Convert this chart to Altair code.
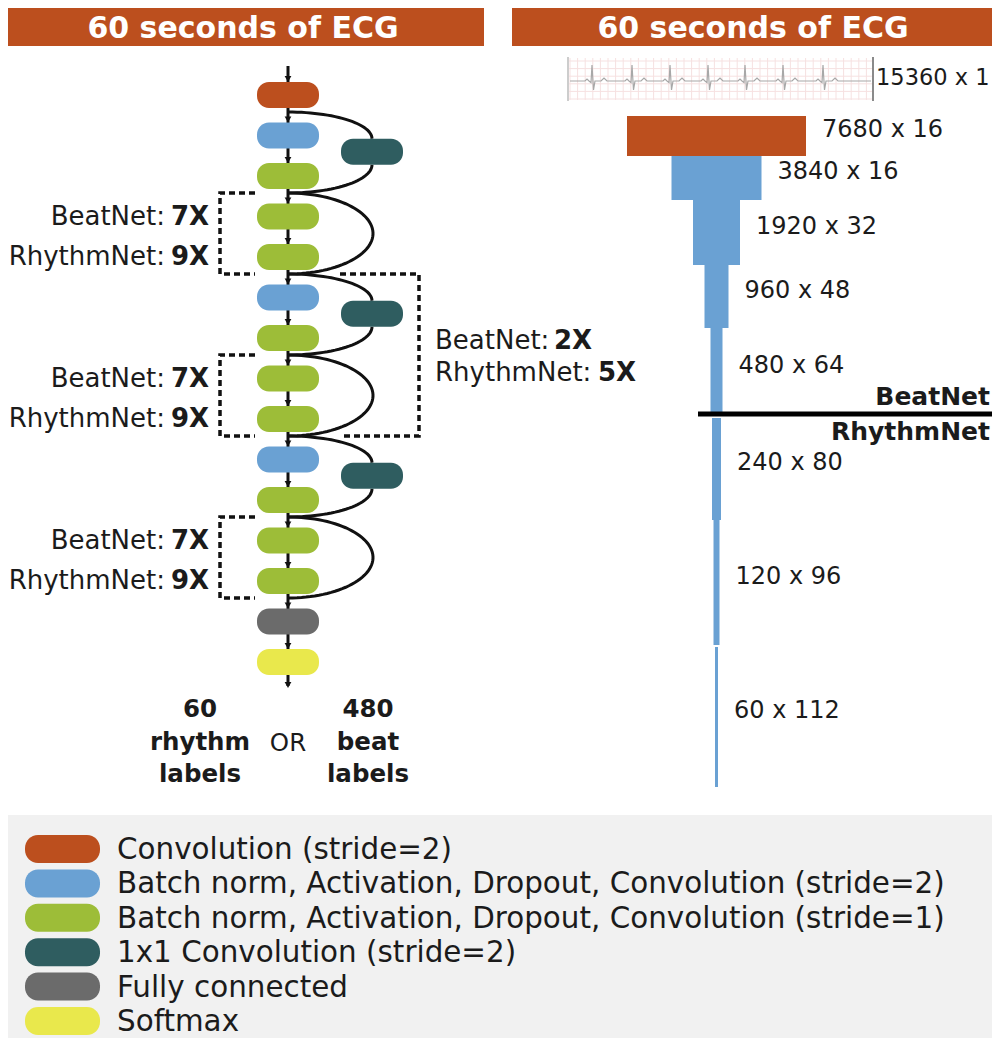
import altair as alt
import numpy as np
import pandas as pd

# ---------------- data ----------------
header_title = "60 seconds of ECG"

block_types = ["conv", "bn_s2", "bn_s1", "bn_s1", "bn_s1",
               "bn_s2", "bn_s1", "bn_s1", "bn_s1",
               "bn_s2", "bn_s1", "bn_s1", "bn_s1",
               "fc", "softmax"]
skip_starts = [0, 4, 8]          # a 1x1-conv shortcut starts after these blocks
repeat_beatnet = ["7X", "7X", "7X"]
repeat_rhythmnet = ["9X", "9X", "9X"]
outer_beatnet = "2X"
outer_rhythmnet = "5X"

legend_keys = ["conv", "bn_s2", "bn_s1", "skip", "fc", "softmax"]
legend_labels = ["Convolution (stride=2)",
                 "Batch norm, Activation, Dropout, Convolution (stride=2)",
                 "Batch norm, Activation, Dropout, Convolution (stride=1)",
                 "1x1 Convolution (stride=2)",
                 "Fully connected",
                 "Softmax"]

palette = {"conv": "#BC4F1E", "bn_s2": "#6AA1D3", "bn_s1": "#9DBD38",
           "skip": "#2F5D60", "fc": "#6B6B6B", "softmax": "#E9E84C"}

shape_lengths = [15360, 7680, 3840, 1920, 960, 480, 240, 120, 60]
shape_channels = [1, 16, 16, 32, 48, 64, 80, 96, 112]
funnel_colors = ["conv", "bn_s2", "bn_s2", "bn_s2", "bn_s2", "bn_s2", "bn_s2", "bn_s2"]
funnel_width = [179, 90, 47, 24, 12, 9, 6, 3]
funnel_top = [116, 156, 200, 265, 328, 418, 520, 647]
funnel_bottom = [156, 200, 265, 328, 415, 520, 645, 787]

ecg_beats = [592, 632, 670, 708, 745, 783, 823]

out_left = ["60", "rhythm", "labels"]
out_right = ["480", "beat", "labels"]

# ---------------- layout ----------------
FONT = "DejaVu Sans"
INK = "#1b1b1b"
X0, X1, Y0, Y1 = 8, 992, 8, 1038
XS = alt.Scale(domain=[X0, X1], nice=False, zero=False)
YS = alt.Scale(domain=[Y0, Y1], nice=False, zero=False, reverse=True)

CX = 288          # main column centre
BW, BH = 62, 26
def yc(i):
    return 95 + 40.5 * i
def J(i):
    return yc(i) + 17


def rects(df, radius=0):
    kw = dict(cornerRadius=radius) if radius else {}
    return alt.Chart(df).mark_rect(**kw).encode(
        x=alt.X("x:Q", scale=XS, axis=None), x2="x2:Q",
        y=alt.Y("y:Q", scale=YS, axis=None), y2="y2:Q",
        color=alt.Color("c:N", scale=None))


def texts(df, size, weight="normal", align="left", color=INK, baseline="middle"):
    return alt.Chart(df).mark_text(font=FONT, fontSize=size, fontWeight=weight,
                                   align=align, baseline=baseline, color=color).encode(
        x=alt.X("x:Q", scale=XS, axis=None),
        y=alt.Y("y:Q", scale=YS, axis=None),
        text="t:N")


def lines(df, width=3, color="#111111", dash=None):
    kw = dict(strokeWidth=width, color=color, strokeCap="butt")
    if dash:
        kw["strokeDash"] = dash
    return alt.Chart(df).mark_line(**kw).encode(
        x=alt.X("x:Q", scale=XS, axis=None),
        y=alt.Y("y:Q", scale=YS, axis=None),
        detail="g:N", order="o:Q")


def poly(rows, pts, g):
    for k, (x, y) in enumerate(pts):
        rows.append({"x": x, "y": y, "g": g, "o": k})


layers = []

# legend background
layers.append(rects(pd.DataFrame([{"x": X0, "x2": X1, "y": 815, "y2": Y1, "c": "#F1F1F1"}])))

# headers
hdr = pd.DataFrame([{"x": X0, "x2": 484, "y": Y0, "y2": 46, "c": palette["conv"]},
                    {"x": 512, "x2": X1, "y": Y0, "y2": 46, "c": palette["conv"]}])
layers.append(rects(hdr))
layers.append(texts(pd.DataFrame([{"x": 243, "y": 37.5, "t": header_title},
                                  {"x": 753, "y": 37.5, "t": header_title}]),
                    30, "bold", "center", "white", "alphabetic"))

# ECG strip
grid = []
gx = np.arange(570, 873, 7.6)
for k, x in enumerate(gx):
    poly(grid, [(x, 58), (x, 100)], f"v{k}")
for k, y in enumerate(np.arange(61, 100, 7.6)):
    poly(grid, [(569, y), (872, y)], f"h{k}")
layers.append(lines(pd.DataFrame(grid), width=1, color="#F6E1E1"))
frame = []
poly(frame, [(568, 57), (568, 101)], "l")
layers.append(lines(pd.DataFrame(frame), width=1.5, color="#BDBDBD"))
frame2 = []
poly(frame2, [(873, 57), (873, 101)], "r")
layers.append(lines(pd.DataFrame(frame2), width=2, color="#8A8A8A"))
template = [(-7, 0), (-5, -2), (-3, 0), (-1, 1.5), (0, -16), (1.5, 9), (3, 0),
            (9, 0), (12, -3), (15, 0)]
ecg_pts = [(570, 81)]
for bx in ecg_beats:
    ecg_pts += [(bx + dx, 81 + dy) for dx, dy in template]
ecg_pts.append((871, 81))
ecg = []
poly(ecg, ecg_pts, "ecg")
layers.append(lines(pd.DataFrame(ecg), width=1.2, color="#A8A8A8"))
layers.append(texts(pd.DataFrame([{"x": 876, "y": 78,
                                   "t": f"{shape_lengths[0]} x {shape_channels[0]}"}]), 22.5))

# main vertical connector
vline = []
poly(vline, [(CX, 66), (CX, 686)], "v")
layers.append(lines(pd.DataFrame(vline), width=3))

# shortcut curves, repeat arcs, dotted boxes
curves, dots = [], []
for s, i in enumerate(skip_starts):
    ty = (yc(i + 1) + yc(i + 2)) / 2 - 4
    ttop, tbot = ty - BH / 2, ty + BH / 2
    t = np.linspace(0, np.pi / 2, 30)
    poly(curves, list(zip(CX + 84 * np.sin(t), ttop - (ttop - J(i)) * np.cos(t))), f"a{s}")
    t = np.linspace(np.pi / 2, np.pi, 30)
    poly(curves, list(zip(CX + 84 * np.sin(t), tbot - (J(i + 2) - tbot) * np.cos(t))), f"b{s}")
    a, b = J(i + 2), J(i + 4)
    t = np.linspace(0, np.pi, 60)
    poly(curves, list(zip(CX + 85 * np.sin(t), (a + b) / 2 - (b - a) / 2 * np.cos(t))), f"c{s}")
    poly(dots, [(255, a), (220, a), (220, b), (255, b)], f"d{s}")
poly(dots, [(340, J(4)), (419, J(4)), (419, J(8)), (340, J(8))], "outer")
layers.append(lines(pd.DataFrame(curves), width=3))
layers.append(lines(pd.DataFrame(dots), width=3.5, dash=[6, 4]))

# blocks
blk = pd.DataFrame([{"x": CX - BW / 2, "x2": CX + BW / 2, "y": yc(i) - BH / 2,
                     "y2": yc(i) + BH / 2, "c": palette[b]} for i, b in enumerate(block_types)])
skp = pd.DataFrame([{"x": 341, "x2": 403,
                     "y": (yc(i + 1) + yc(i + 2)) / 2 - 4 - BH / 2,
                     "y2": (yc(i + 1) + yc(i + 2)) / 2 - 4 + BH / 2,
                     "c": palette["skip"]} for i in skip_starts])
layers.append(rects(blk, radius=12))
layers.append(rects(skp, radius=12))

# arrowheads
heads = pd.DataFrame({"x": [CX] * (len(block_types) + 1),
                      "y": [yc(i) - BH / 2 - 3 for i in range(len(block_types))] + [685]})
layers.append(alt.Chart(heads).mark_point(shape="triangle-down", filled=True, size=45,
                                          color="#111111", opacity=1).encode(
    x=alt.X("x:Q", scale=XS, axis=None), y=alt.Y("y:Q", scale=YS, axis=None)))

# repeat labels
LS = 26
lab_n, lab_b = [], []
for s, i in enumerate(skip_starts):
    lab_n += [{"x": 165, "y": yc(i + 3), "t": "BeatNet:"},
              {"x": 165, "y": yc(i + 4), "t": "RhythmNet:"}]
    lab_b += [{"x": 171, "y": yc(i + 3), "t": repeat_beatnet[s]},
              {"x": 171, "y": yc(i + 4), "t": repeat_rhythmnet[s]}]
layers.append(texts(pd.DataFrame(lab_n), LS, "normal", "right"))
layers.append(texts(pd.DataFrame(lab_b), LS, "bold", "left"))
mid = (J(4) + J(8)) / 2
layers.append(texts(pd.DataFrame([{"x": 435, "y": mid - 14, "t": "BeatNet:"},
                                  {"x": 435, "y": mid + 18, "t": "RhythmNet:"}]), LS))
layers.append(texts(pd.DataFrame([{"x": 554, "y": mid - 14, "t": outer_beatnet},
                                  {"x": 598, "y": mid + 18, "t": outer_rhythmnet}]), LS, "bold"))

# outputs
outs = [{"x": 200, "y": 710 + 32.5 * k, "t": w} for k, w in enumerate(out_left)] + \
       [{"x": 368, "y": 710 + 32.5 * k, "t": w} for k, w in enumerate(out_right)]
layers.append(texts(pd.DataFrame(outs), 24.5, "bold", "center"))
layers.append(texts(pd.DataFrame([{"x": CX, "y": 744, "t": "OR"}]), 24.5, "normal", "center"))

# funnel
FC = 716.5
fun = pd.DataFrame([{"x": FC - w / 2, "x2": FC + w / 2, "y": t, "y2": b, "c": palette[c]}
                    for w, t, b, c in zip(funnel_width, funnel_top, funnel_bottom, funnel_colors)])
layers.append(rects(fun))
flab = pd.DataFrame([{"x": max(FC + w / 2 + 16, 733), "y": (t + b) / 2 - 6,
                      "t": f"{L} x {C}"}
                     for w, t, b, L, C in zip(funnel_width, funnel_top, funnel_bottom,
                                              shape_lengths[1:], shape_channels[1:])])
layers.append(texts(flab, 24))
split = []
poly(split, [(698, 414), (X1, 414)], "split")
layers.append(lines(pd.DataFrame(split), width=5, color="#000000"))
layers.append(texts(pd.DataFrame([{"x": 990, "y": 397, "t": "BeatNet"},
                                  {"x": 990, "y": 432, "t": "RhythmNet"}]), 25, "bold", "right"))

# legend
leg_sw = pd.DataFrame([{"x": 25, "x2": 100, "y": 835 + 34.4 * k, "y2": 863 + 34.4 * k,
                        "c": palette[key]} for k, key in enumerate(legend_keys)])
layers.append(rects(leg_sw, radius=13))
leg_t = pd.DataFrame([{"x": 117, "y": 850 + 34.4 * k, "t": lab} for k, lab in enumerate(legend_labels)])
layers.append(texts(leg_t, 29.4))

chart = alt.layer(*layers).properties(
    width=X1 - X0, height=Y1 - Y0, padding=0, background="white",
    autosize=alt.AutoSizeParams(type="none")
).configure_view(strokeWidth=0)

chart.save("out.html", embed_options={"renderer": "svg", "actions": False})
